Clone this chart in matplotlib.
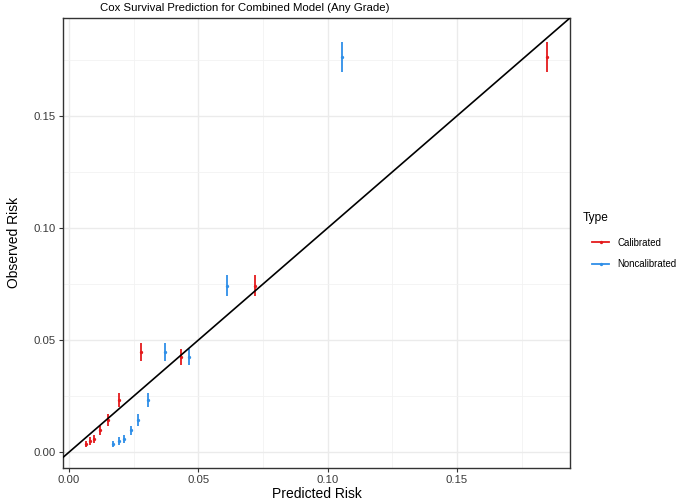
"""Calibration plot: observed vs predicted risk, calibrated and noncalibrated."""

import matplotlib

matplotlib.use("Agg")
import matplotlib.pyplot as plt
from matplotlib.lines import Line2D
from matplotlib.ticker import MultipleLocator

plt.rcParams["font.family"] = ["Liberation Sans", "DejaVu Sans"]

# observed risk per risk group (shared by both types)
observed = [0.1764, 0.0743, 0.0447, 0.0424, 0.0233, 0.0143, 0.0097, 0.0061, 0.0050, 0.0037]
obs_halfwidth = [0.0066, 0.0047, 0.0040, 0.0036, 0.0030, 0.0026, 0.0021, 0.0018, 0.0016, 0.0015]

pred_calibrated = [0.1848, 0.0719, 0.0278, 0.0433, 0.0195, 0.0152, 0.0120, 0.0098, 0.0081, 0.0066]
pred_noncalibrated = [0.1057, 0.0610, 0.0371, 0.0464, 0.0304, 0.0268, 0.0239, 0.0214, 0.0194, 0.0171]

types = ["Calibrated", "Noncalibrated"]
colors = {"Calibrated": "#E41A1C", "Noncalibrated": "#2F8FE8"}

W, H = 685, 503
fig = plt.figure(figsize=(W / 100, H / 100), dpi=100)
ax = fig.add_axes([0.092, 0.0702, 0.740, 0.894])

for name, pred in zip(types, [pred_calibrated, pred_noncalibrated]):
    c = colors[name]
    ax.errorbar(pred, observed, yerr=obs_halfwidth, fmt="none", ecolor=c,
                elinewidth=1.3, capsize=0, zorder=3)
    ax.plot(pred, observed, ls="none", marker="o", ms=2.4, color=c, mew=0, zorder=4)

ax.axline((0, 0), slope=1, color="black", lw=1.2, zorder=5)

ax.set_xlim(-0.0023, 0.1937)
ax.set_ylim(-0.0069, 0.1937)
ax.xaxis.set_major_locator(MultipleLocator(0.05))
ax.yaxis.set_major_locator(MultipleLocator(0.05))
ax.xaxis.set_minor_locator(MultipleLocator(0.025))
ax.yaxis.set_minor_locator(MultipleLocator(0.025))
ax.xaxis.set_major_formatter(lambda v, p: f"{v:.2f}")
ax.yaxis.set_major_formatter(lambda v, p: f"{v:.2f}")
ax.grid(True, which="major", color="#EBEBEB", lw=1.0, zorder=0)
ax.grid(True, which="minor", color="#F2F2F2", lw=0.6, zorder=0)
ax.set_axisbelow(True)
ax.tick_params(which="major", length=3, width=0.8, color="#333333",
               labelsize=8.2, labelcolor="#3A3A3A", pad=2)
ax.tick_params(which="minor", length=0)
for s in ax.spines.values():
    s.set_color("#333333")
    s.set_linewidth(1.0)

ax.set_xlabel("Predicted Risk", fontsize=10, labelpad=2)
ax.set_ylabel("Observed Risk", fontsize=10, labelpad=9)
fig.text(100 / W, 1 - 8 / H, "Cox Survival Prediction for Combined Model (Any Grade)",
         fontsize=8.2, ha="left", va="center")

# legend: title placed separately so the keys sit indented like ggplot's
fig.text(583 / W, 1 - 218 / H, "Type", fontsize=8.6, ha="left", va="center")
handles = [Line2D([], [], color=colors[t], lw=1.3, marker="o", ms=2.4, mew=0)
           for t in types]
ax.legend(handles, types, frameon=False, loc="center left",
          bbox_to_anchor=(592 / W, 1 - 253.5 / H), bbox_transform=fig.transFigure,
          fontsize=6.9, handlelength=1.8, labelspacing=1.2, handletextpad=0.85,
          borderpad=0, borderaxespad=0)

fig.savefig("out.png", dpi=100)
